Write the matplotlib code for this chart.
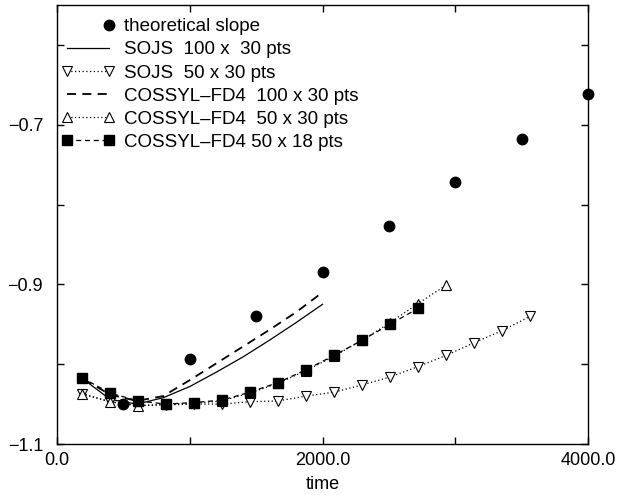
import matplotlib
matplotlib.use("Agg")
import matplotlib.pyplot as plt
from matplotlib.lines import Line2D
from matplotlib.legend_handler import HandlerLine2D

plt.rcParams['font.family'] = ['Liberation Sans', 'DejaVu Sans']
plt.rcParams['font.size'] = 13

# theoretical slope
theo_x = [500, 1000, 1500, 2000, 2500, 3000, 3500, 4000]
theo_y = [-1.050, -0.994, -0.939, -0.884, -0.827, -0.772, -0.718, -0.662]

# SOJS 100 x 30 (solid) and COSSYL-FD4 100 x 30 (dashed)
fine_x = [200, 400, 600, 800, 1000, 1200, 1400, 1600, 1800, 2000]
sojs100_y = [-1.019, -1.044, -1.050, -1.042, -1.028, -1.010, -0.991, -0.970, -0.948, -0.925]
coss100_y = [-1.019, -1.038, -1.046, -1.040, -1.020, -0.999, -0.978, -0.957, -0.935, -0.910]

# coarse grid runs
coarse_x = [188, 399, 610, 821, 1032, 1243, 1454, 1665, 1876, 2087, 2298, 2509,
            2720, 2931, 3142, 3353, 3564]
sojs50_y = [-1.037, -1.047, -1.052, -1.051, -1.050, -1.050, -1.047, -1.046, -1.040,
            -1.035, -1.026, -1.016, -1.003, -0.989, -0.973, -0.958, -0.940]
coss50_y = [-1.037, -1.047, -1.052, -1.050, -1.049, -1.046, -1.036, -1.024, -1.008,
            -0.990, -0.970, -0.948, -0.924, -0.901]
coss18_y = [-1.017, -1.036, -1.046, -1.050, -1.048, -1.045, -1.035, -1.023, -1.007,
            -0.989, -0.970, -0.950, -0.930]

labels = ["theoretical slope", "SOJS  100 x  30 pts", "SOJS  50 x 30 pts",
          "COSSYL\u2013FD4  100 x 30 pts", "COSSYL\u2013FD4  50 x 30 pts",
          "COSSYL\u2013FD4 50 x 18 pts"]


class RightMarker(HandlerLine2D):
    # only one marker, at the right end of the handle
    def create_artists(self, *args, **kwargs):
        arts = super().create_artists(*args, **kwargs)
        for a in arts:
            a.set_markevery([len(a.get_xdata()) - 1])
        return arts


fig = plt.figure(figsize=(6.18, 4.95), dpi=100)
ax = fig.add_axes([0.0922, 0.1030, 0.8593, 0.8869])

ax.plot(fine_x, sojs100_y, color='k', lw=0.9)
ax.plot(fine_x, coss100_y, color='k', lw=1.3, dashes=(5, 3.5))
ax.plot(coarse_x, sojs50_y, color='k', lw=0.9, dashes=(1, 2), marker='v',
        ms=7, mfc='white', mec='k', mew=0.8)
ax.plot(coarse_x[:len(coss50_y)], coss50_y, color='k', lw=0.9, dashes=(1, 2),
        marker='^', ms=7, mfc='white', mec='k', mew=0.8)
ax.plot(coarse_x[:len(coss18_y)], coss18_y, color='k', lw=0.9, dashes=(4, 3),
        marker='s', ms=6.5, mfc='k', mec='k')
ax.plot(theo_x, theo_y, ls='none', marker='o', ms=7.5, color='k', clip_on=False)

h_theo = Line2D([], [], ls='none', marker='o', ms=7.5, color='k')
handles = [
    h_theo,
    Line2D([], [], color='k', lw=0.9),
    Line2D([], [], color='k', lw=0.9, dashes=(1, 2), marker='v', ms=7, mfc='white', mec='k', mew=0.8),
    Line2D([], [], color='k', lw=1.3, dashes=(5, 3.5)),
    Line2D([], [], color='k', lw=0.9, dashes=(1, 2), marker='^', ms=7, mfc='white', mec='k', mew=0.8),
    Line2D([], [], color='k', lw=0.9, dashes=(4, 3), marker='s', ms=6.5, mfc='k', mec='k'),
]
ax.legend(handles, labels, loc='upper left', bbox_to_anchor=(0.009, 0.970),
          frameon=False, borderpad=0, borderaxespad=0, handlelength=2.8,
          handletextpad=0.5, labelspacing=0.32, numpoints=2, fontsize=13.5,
          handler_map={h_theo: RightMarker()})

ax.set_xlim(0, 4000)
ax.set_ylim(-1.1, -0.55)
ax.set_xticks([0, 1000, 2000, 3000, 4000])
ax.set_xticklabels(["0.0", "", "2000.0", "", "4000.0"])
ax.set_yticks([-1.1, -1.0, -0.9, -0.8, -0.7, -0.6])
ax.set_yticklabels(["\u22121.1", "", "\u22120.9", "", "\u22120.7", ""])
ax.tick_params(direction='in', length=5, width=1, top=True, right=True, labelsize=13)
ax.tick_params(axis='y', pad=10)
ax.tick_params(axis='x', pad=6)
for s in ax.spines.values():
    s.set_linewidth(1.0)
ax.set_xlabel("time", labelpad=5, fontsize=13)

fig.savefig("out.png", dpi=100)
